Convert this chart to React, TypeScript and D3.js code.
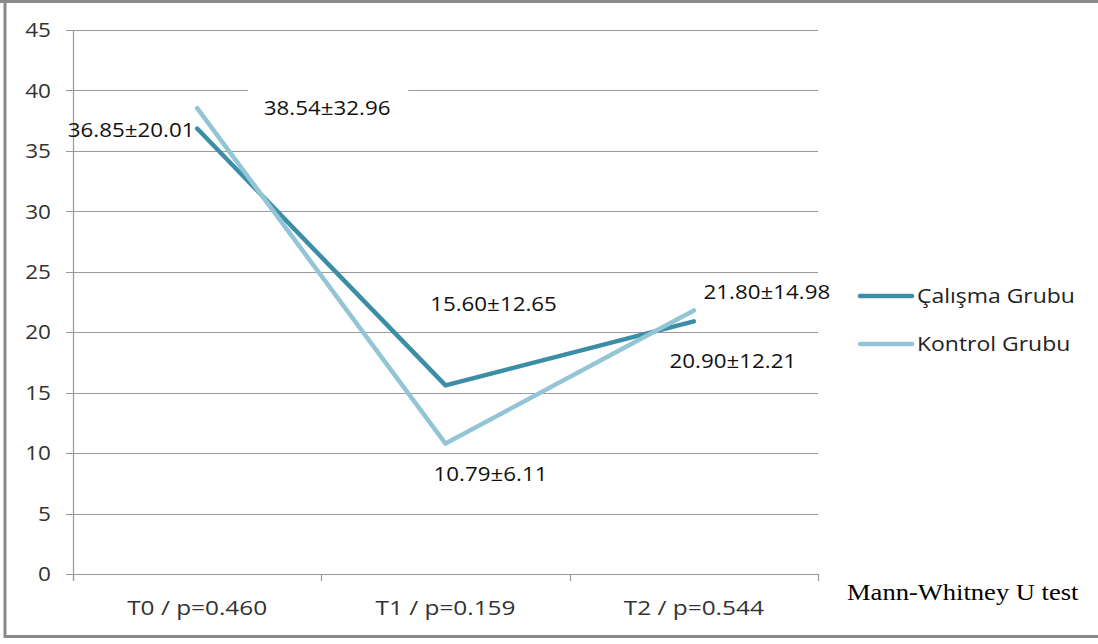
import React from "react";
import * as d3 from "d3";

const timePoints = ["T0 / p=0.460", "T1 / p=0.159", "T2 / p=0.544"];
const seriesNames = ["Çalışma Grubu", "Kontrol Grubu"];
const calismaMeans = [36.85, 15.6, 20.9];
const calismaSD = [20.01, 12.65, 12.21];
const kontrolMeans = [38.54, 10.79, 21.8];
const kontrolSD = [32.96, 6.11, 14.98];
const yTicks = [0, 5, 10, 15, 20, 25, 30, 35, 40, 45];
const footnote = "Mann-Whitney U test";

const W = 1098;
const H = 644;
const plot = { left: 73, right: 818, top: 30, bottom: 574 };
const colors = ["#3b8ea5", "#93c5d6"];
const font = "'Open Sans', sans-serif";

type TxtProps = {
  x: number;
  y: number;
  size: number;
  sx?: number;
  anchor?: "start" | "middle" | "end";
  fill?: string;
  family?: string;
  dy?: string;
  children: React.ReactNode;
};

// Text drawn with a slight horizontal stretch around its anchor point
function Txt({ x, y, size, sx = 1, anchor = "start", fill = "#333", family = font, dy = "0.35em", children }: TxtProps) {
  return (
    <g transform={`translate(${x},${y}) scale(${sx},1)`}>
      <text x={0} y={0} dy={dy} textAnchor={anchor} fontFamily={family} fontSize={size} fill={fill}>
        {children}
      </text>
    </g>
  );
}

export default function App() {
  const x = d3.scaleBand<string>().domain(timePoints).range([plot.left, plot.right]).padding(0);
  const y = d3.scaleLinear().domain([0, 45]).range([plot.bottom, plot.top]);
  const cx = (c: string) => (x(c) as number) + x.bandwidth() / 2;

  const line = d3
    .line<number>()
    .x((_, i) => cx(timePoints[i]))
    .y((d) => y(d));

  const series = [
    { name: seriesNames[0], means: calismaMeans, sd: calismaSD, color: colors[0] },
    { name: seriesNames[1], means: kontrolMeans, sd: kontrolSD, color: colors[1] },
  ];

  const fmt = (m: number, s: number) => `${m.toFixed(2)}±${s.toFixed(2)}`;

  // label offsets from each data point (dx, dy)
  const labelOffsets = [
    [
      [-66, 1],
      [48, -82],
      [39, 39],
    ],
    [
      [130, 0],
      [45, 30],
      [73, -19],
    ],
  ];

  const tickEdges = d3.range(timePoints.length + 1).map((i) => plot.left + i * x.bandwidth());
  const gridColor = "#9a9a9a";

  return (
    <div style={{ position: "absolute", left: 0, top: 0 }}>
      <svg width={W} height={H} style={{ display: "block", background: "#fff" }}>
        <rect x={0} y={0} width={W} height={H} fill="#fff" />
        {/* outer frame */}
        <line x1={5} y1={0} x2={5} y2={638} stroke="#8a8a8a" strokeWidth={3} />
        <line x1={0} y1={1.5} x2={W} y2={1.5} stroke="#8a8a8a" strokeWidth={3} />
        <line x1={4} y1={636.5} x2={W} y2={636.5} stroke="#8a8a8a" strokeWidth={3} />

        {/* gridlines */}
        {yTicks.map((t) => (
          <line
            key={t}
            x1={plot.left - 7}
            x2={plot.right}
            y1={Math.round(y(t)) + 0.5}
            y2={Math.round(y(t)) + 0.5}
            stroke={gridColor}
            strokeWidth={1.2}
          />
        ))}
        {/* y axis */}
        <line
          x1={plot.left + 0.5}
          x2={plot.left + 0.5}
          y1={plot.top}
          y2={plot.bottom + 7}
          stroke={gridColor}
          strokeWidth={1.2}
        />
        {/* category boundary ticks */}
        {tickEdges.map((tx, i) => (
          <line
            key={i}
            x1={Math.round(tx) + 0.5}
            x2={Math.round(tx) + 0.5}
            y1={plot.bottom}
            y2={plot.bottom + 7}
            stroke={gridColor}
            strokeWidth={1.2}
          />
        ))}
        {/* y tick labels */}
        {yTicks.map((t) => (
          <Txt key={t} x={51} y={y(t)} size={20.5} sx={1.1} anchor="end">
            {t}
          </Txt>
        ))}
        {/* category labels */}
        {timePoints.map((c) => (
          <Txt key={c} x={cx(c)} y={608} size={20.5} sx={1.19} anchor="middle">
            {c}
          </Txt>
        ))}

        {/* series lines */}
        {series.map((s) => (
          <path
            key={s.name}
            d={line(s.means) as string}
            fill="none"
            stroke={s.color}
            strokeWidth={4.5}
            strokeLinejoin="round"
            strokeLinecap="round"
          />
        ))}

        {/* data labels: mean ± SD */}
        {series.map((s, si) =>
          s.means.map((m, i) => {
            const px = cx(timePoints[i]) + labelOffsets[si][i][0];
            const py = y(m) + labelOffsets[si][i][1];
            const boxed = si === 1 && i === 0;
            return (
              <g key={`${si}-${i}`}>
                {boxed && <rect x={px - 79} y={py - 24} width={160} height={46} fill="#fff" />}
                <Txt x={px} y={py} size={20.5} sx={1.09} anchor="middle" fill="#111">
                  {fmt(m, s.sd[i])}
                </Txt>
              </g>
            );
          })
        )}

        {/* legend */}
        {series.map((s, i) => {
          const ly = 296 + i * 48;
          return (
            <g key={s.name}>
              <line x1={860} x2={912} y1={ly} y2={ly} stroke={s.color} strokeWidth={4.5} strokeLinecap="round" />
              <Txt x={917} y={ly} size={20.5} sx={1.12} fill="#222">
                {s.name}
              </Txt>
            </g>
          );
        })}

        {/* test note */}
        <Txt
          x={847}
          y={600}
          size={23.5}
          sx={1.13}
          dy="0"
          fill="#000"
          family="'Liberation Serif', 'Times New Roman', serif"
        >
          {footnote}
        </Txt>
      </svg>
    </div>
  );
}
